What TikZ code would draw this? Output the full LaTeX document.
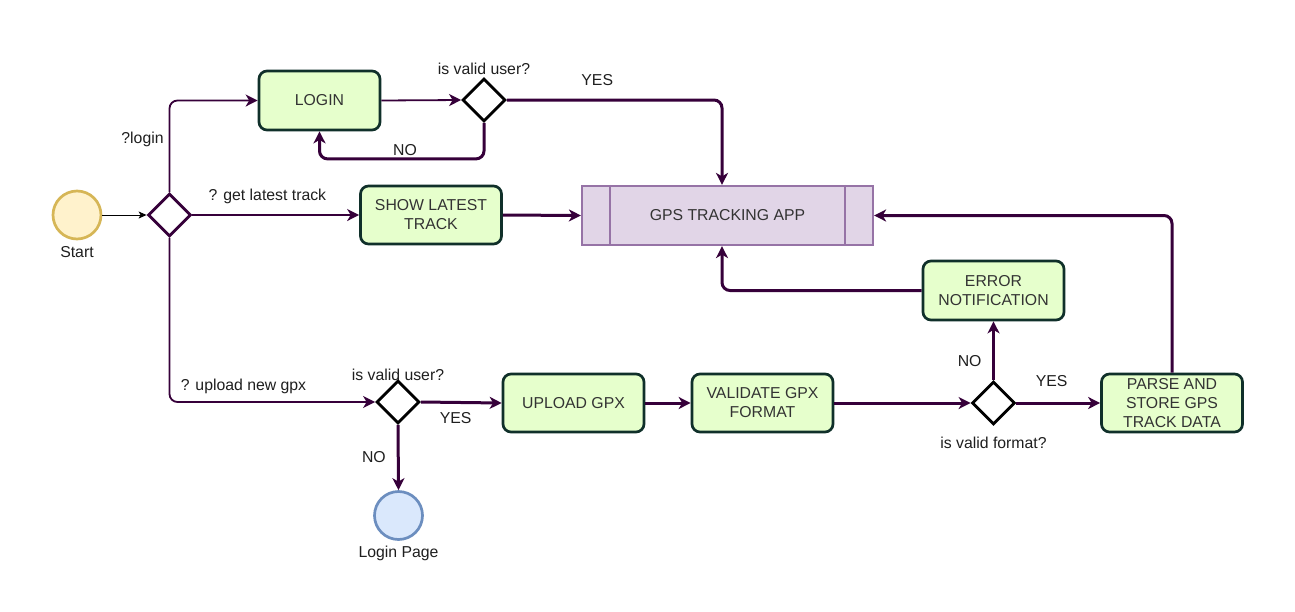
\documentclass[tikz,border=0pt]{standalone}
\usepackage{fontspec}
\setmainfont{Liberation Sans}
\usetikzlibrary{arrows.meta,positioning,shapes.geometric}
\definecolor{flow}{HTML}{36003A}
\definecolor{boxline}{HTML}{10302A}
\definecolor{boxfill}{HTML}{E6FFCC}
\definecolor{appfill}{HTML}{E1D5E7}
\definecolor{appline}{HTML}{9673A6}
\definecolor{startfill}{HTML}{FFF2CC}
\definecolor{startline}{HTML}{D6B656}
\definecolor{pagefill}{HTML}{DAE8FC}
\definecolor{pageline}{HTML}{6C8EBF}
\definecolor{txt}{HTML}{333333}

\begin{document}
\begin{tikzpicture}[x=1pt,y=-1pt,>={Stealth[length=12pt,width=12pt,inset=3.5pt]},
    base/.style={font=\fontsize{15.8}{19}\selectfont},
    tag/.style={base,text=black!88,inner sep=2pt},
    action/.style={base,text=txt,rectangle,rounded corners=8pt,draw=boxline,fill=boxfill,
        line width=2.7pt,align=center,inner sep=0pt,minimum width=141pt,minimum height=58pt},
    choice/.style={diamond,draw=black,fill=white,line width=2.8pt,inner sep=0pt,
        minimum width=43pt,minimum height=43pt},
    terminal/.style={circle,line width=2.7pt,minimum size=48pt,inner sep=0pt},
    flowthin/.style={->,draw=flow,line width=1.8pt,rounded corners=8pt},
    flowthick/.style={flowthin,line width=3pt}]
    \fill[white] (0,0) rectangle (1295,611);
    \useasboundingbox (0,0) rectangle (1295,611);

    \node[terminal,draw=startline,fill=startfill,label={[tag,label distance=4pt]below:Start}] (start) at (77,215) {};
    \node[choice,draw=flow] (d1) at (169.5,215) {};
    \node[action,minimum width=121pt,minimum height=59pt] (login) at (319.5,100.5) {LOGIN};
    \node[choice,label={[tag]above:is valid user?}] (d2) at (484,100) {};
    \node[action] (show) at (431,215) {SHOW LATEST\\TRACK};
    \node[base,text=txt,rectangle,draw=appline,fill=appfill,line width=2.2pt,
        minimum width=291pt,minimum height=59pt] (gps) at (727.5,215.5) {GPS TRACKING APP};
    \draw[appline,line width=2.2pt] ([xshift=29pt]gps.north west)--([xshift=29pt]gps.south west);
    \draw[appline,line width=2.2pt] ([xshift=-29pt]gps.north east)--([xshift=-29pt]gps.south east);
    \node[choice,label={[tag,label distance=-4pt]above:is valid user?}] (d3) at (398,402) {};
    \node[terminal,draw=pageline,fill=pagefill,label={[tag,label distance=3pt]below:Login Page}] (page) at (398.5,515.5) {};
    \node[action] (upload) at (573.5,403) {UPLOAD GPX};
    \node[action] (validate) at (762.5,403) {VALIDATE GPX\\FORMAT};
    \node[choice,label={[tag,label distance=9pt]below:is valid format?}] (d4) at (993.5,403) {};
    \node[action,minimum height=59pt] (error) at (993.5,290.5) {ERROR\\NOTIFICATION};
    \node[action] (parse) at (1172,403) {PARSE AND\\STORE GPS\\TRACK DATA};

    \draw[-{Stealth[length=8pt,width=7pt,inset=2pt]},line width=1pt] (start)--(d1);
    \draw[flowthin] (d1.north) |- node[tag,pos=0.29,left=3pt]{?login} (login.west);
    \draw[flowthin] (d1.east) -- node[tag,pos=0.45,above=8pt]{? get latest track} (show.west);
    \draw[flowthin] (d1.south) |- node[tag,pos=0.68,above=5pt]{? upload new gpx} (d3.west);
    \draw[flowthin] (login.east) -- (d2.west);
    \draw[flowthick] (d2.east) -| node[tag,pos=0.21,above=10.5pt]{YES} ([xshift=-5.5pt]gps.north);
    \draw[flowthick] (d2.south) -- ++(0,36) -| node[tag,pos=0.24,above]{NO} (login.south);
    \draw[flowthick] (show.east) -- (gps.west);
    \draw[flowthick] (d3.east) -- node[tag,pos=0.43,below=7pt]{YES} (upload.west);
    \draw[flowthick] (d3.south) -- node[tag,pos=0.5,left=9pt]{NO} (page.north);
    \draw[flowthick] (upload.east) -- (validate.west);
    \draw[flowthick] (validate.east) -- (d4.west);
    \draw[flowthick] (d4.east) -- node[tag,pos=0.42,above=13pt]{YES} (parse.west);
    \draw[flowthick] (d4.north) -- node[tag,pos=0.32,left=8.5pt]{NO} (error.south);
    \draw[flowthick] (error.west) -| ([xshift=-5.5pt]gps.south);
    \draw[flowthick] (parse.north) |- (gps.east);
\end{tikzpicture}
\end{document}
